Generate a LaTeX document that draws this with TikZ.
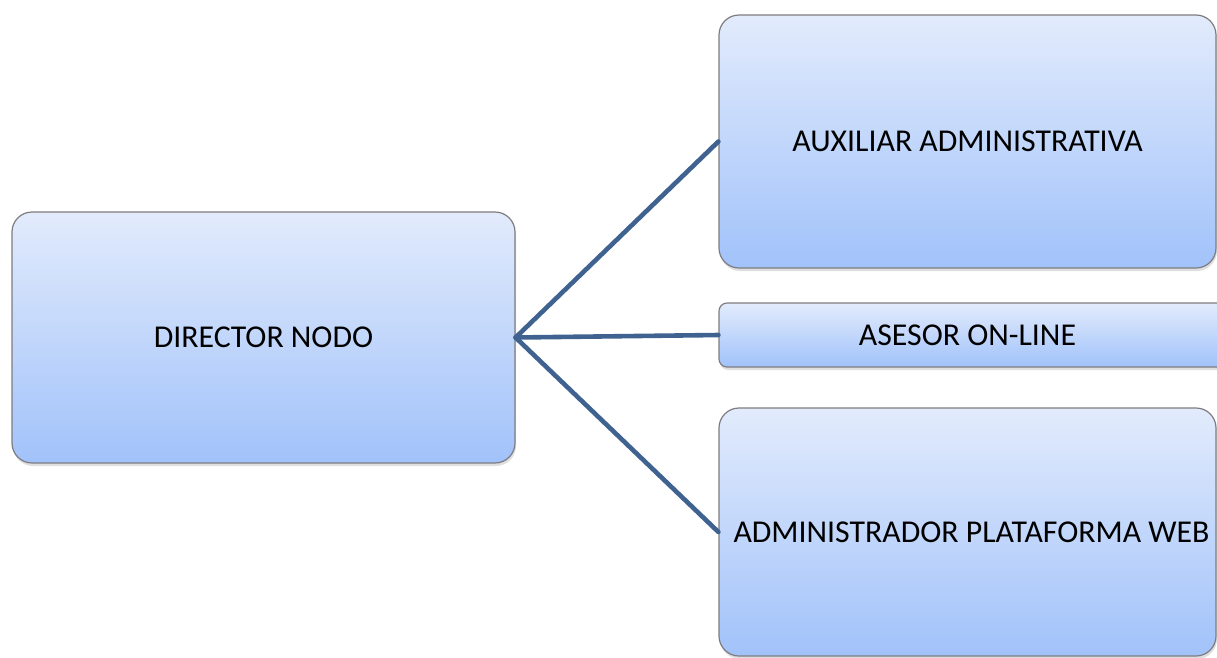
\documentclass[tikz,border=0pt]{standalone}
\usepackage{fontspec}
\setmainfont{Carlito}
\usepackage{tikz}
\usetikzlibrary{shadows}
\definecolor{toptone}{RGB}{226,235,252}
\definecolor{bottomtone}{RGB}{161,194,250}
\definecolor{linktone}{RGB}{63,98,145}
\definecolor{edgetone}{RGB}{125,125,128}
\newcommand{\linkwidth}{4.6pt}
\newcommand{\labelsize}{\fontsize{31.8}{36}\selectfont}
\tikzset{
  postbox/.style={draw=edgetone, line width=1.2pt, rounded corners=20pt,
    top color=toptone, bottom color=bottomtone, font=\labelsize,
    drop shadow={opacity=0.25, shadow xshift=1pt, shadow yshift=-3pt},
    inner sep=0pt, align=center},
  link/.style={draw=linktone, line width=\linkwidth, line cap=round, line join=round}
}

\begin{document}
\begin{tikzpicture}[x=1pt, y=-1pt]
\useasboundingbox (0,0) rectangle (1217,657);
%director
\node[postbox, minimum width=503pt, minimum height=251pt] (director) at (263.5, 337.5) {\raisebox{-2pt}{DIRECTOR NODO}};
%staff
\node[postbox, minimum width=497pt, minimum height=253pt] (auxiliar) at (967.5, 141.5) {AUXILIAR ADMINISTRATIVA};
\node[postbox, rounded corners=8pt, minimum width=510pt, minimum height=64pt] (asesor) at (974, 335) {\hspace*{-13pt}ASESOR ON-LINE};
\node[postbox, minimum width=497pt, minimum height=248pt] (admin) at (967.5, 532) {\hspace*{8pt}ADMINISTRADOR PLATAFORMA WEB};
%links
\draw[link] (director.east) -- (auxiliar.west);
\draw[link] (director.east) -- (asesor.west);
\draw[link] (director.east) -- (admin.west);
\end{tikzpicture}
\end{document}
